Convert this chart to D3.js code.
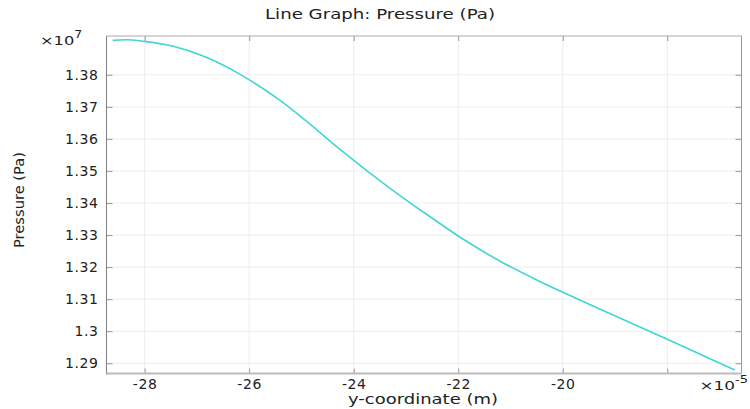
<!DOCTYPE html>
<html><head><meta charset="utf-8">
<script src="https://cdn.jsdelivr.net/npm/d3@7"></script>
<style>body{margin:0;background:#fff}svg{display:block}</style>
</head><body><svg id="c" width="750" height="409"></svg>
<script>
// y-coordinate (×1e-5 m)
const xVals = [-28.612,-28.364,-28.0,-27.470,-26.833,-26.182,-25.990,-25.416,-24.905,-24.268,-23.311,-22.545,-21.971,-21.206,-20.440,-19.675,-18.909,-17.990,-16.708];
// Pressure (×1e7 Pa)
const yVals = [1.39073,1.39091,1.39041,1.38895,1.38552,1.38022,1.37835,1.37211,1.36556,1.35683,1.34467,1.33578,1.32939,1.32191,1.31552,1.30975,1.30413,1.29743,1.28792];
const xTicks = [-28,-26,-24,-22,-20,-18];
const xTickLabels = ["-28","-26","-24","-22","-20",""];
const yTicks = [1.29,1.30,1.31,1.32,1.33,1.34,1.35,1.36,1.37,1.38];
const yTickLabels = ["1.29","1.3","1.31","1.32","1.33","1.34","1.35","1.36","1.37","1.38"];

(function(){
const svg = d3.select("#c");
const L=106.5, R=741.5, T=36, B=373.5;
const x = d3.scaleLinear().domain([-28.73,-16.58]).range([L,R]);
const y = d3.scaleLinear().domain([1.2868,1.3921]).range([B,T]);
const font = "DejaVu Sans, sans-serif";

// grid
svg.append("g").selectAll("line").data(xTicks).join("line")
  .attr("x1",d=>x(d)).attr("x2",d=>x(d)).attr("y1",T).attr("y2",B)
  .attr("stroke","#ededed").attr("stroke-width",1);
svg.append("g").selectAll("line").data(yTicks).join("line")
  .attr("y1",d=>y(d)).attr("y2",d=>y(d)).attr("x1",L).attr("x2",R)
  .attr("stroke","#ededed").attr("stroke-width",1);

const fmtX = (d,i)=>xTickLabels[i];
const fmtY = (d,i)=>yTickLabels[i];
const gB = svg.append("g").attr("transform",`translate(0,${B})`)
  .call(d3.axisBottom(x).tickValues(xTicks).tickFormat(fmtX).tickSizeInner(-5).tickSizeOuter(0).tickPadding(5.5));
const gL = svg.append("g").attr("transform",`translate(${L},0)`)
  .call(d3.axisLeft(y).tickValues(yTicks).tickFormat(fmtY).tickSizeInner(-6).tickSizeOuter(0).tickPadding(8));
const gT = svg.append("g").attr("transform",`translate(0,${T})`)
  .call(d3.axisTop(x).tickValues(xTicks).tickFormat("").tickSizeInner(-5).tickSizeOuter(0));
const gR = svg.append("g").attr("transform",`translate(${R},0)`)
  .call(d3.axisRight(y).tickValues(yTicks).tickFormat("").tickSizeInner(-6).tickSizeOuter(0));
[gB,gL,gT,gR].forEach(g=>{
  g.selectAll(".domain").remove();
  g.selectAll(".tick line").attr("stroke","#999");
  g.selectAll(".tick text").attr("fill","#222").style("font-family",font)
    .style("font-size","14px").style("letter-spacing","0.6px");
});

// frame
svg.append("line").attr("x1",L).attr("x2",R).attr("y1",T).attr("y2",T).attr("stroke","#aaa");
svg.append("line").attr("x1",R).attr("x2",R).attr("y1",T).attr("y2",B).attr("stroke","#999");
svg.append("line").attr("x1",L).attr("x2",L).attr("y1",T).attr("y2",B+1).attr("stroke","#808080");
svg.append("line").attr("x1",L).attr("x2",R).attr("y1",B).attr("y2",B).attr("stroke","#bbb").attr("stroke-width",2);

// line
svg.append("path").datum(xVals.map((v,i)=>[v,yVals[i]]))
  .attr("d",d3.line().x(d=>x(d[0])).y(d=>y(d[1])).curve(d3.curveMonotoneX))
  .attr("fill","none").attr("stroke","#3fd6d4").attr("stroke-width",1.6);

// title
svg.append("text").attr("x",265).attr("y",18.5)
  .attr("textLength",230).attr("lengthAdjust","spacingAndGlyphs")
  .style("font-family",font).style("font-size","14px").attr("fill","#222")
  .text("Line Graph: Pressure (Pa)");

// multipliers
const gy = svg.append("g").attr("transform","translate(40,44.5) scale(1.25,1)");
const my = gy.append("text").attr("x",0).attr("y",0)
  .style("font-family",font).style("font-size","13px").attr("fill","#222");
my.append("tspan").text("×10");
my.append("tspan").attr("dy",-7).style("font-size","10px").text("7");

const gx = svg.append("g").attr("transform","translate(748,389.5) scale(1.3,1)");
const mx = gx.append("text").attr("x",0).attr("y",0).attr("text-anchor","end")
  .style("font-family",font).style("font-size","13px").attr("fill","#222");
mx.append("tspan").text("×10");
mx.append("tspan").attr("dy",-7).style("font-size","10px").text("-5");

// axis labels
svg.append("text").attr("x",348).attr("y",403.5)
  .attr("textLength",150).attr("lengthAdjust","spacingAndGlyphs")
  .style("font-family",font).style("font-size","14px").attr("fill","#222")
  .text("y-coordinate (m)");
svg.append("text").attr("transform","translate(24,200) rotate(-90)").attr("text-anchor","middle")
  .attr("textLength",96).attr("lengthAdjust","spacingAndGlyphs")
  .style("font-family",font).style("font-size","14px").attr("fill","#222")
  .text("Pressure (Pa)");
})();
</script></body></html>
